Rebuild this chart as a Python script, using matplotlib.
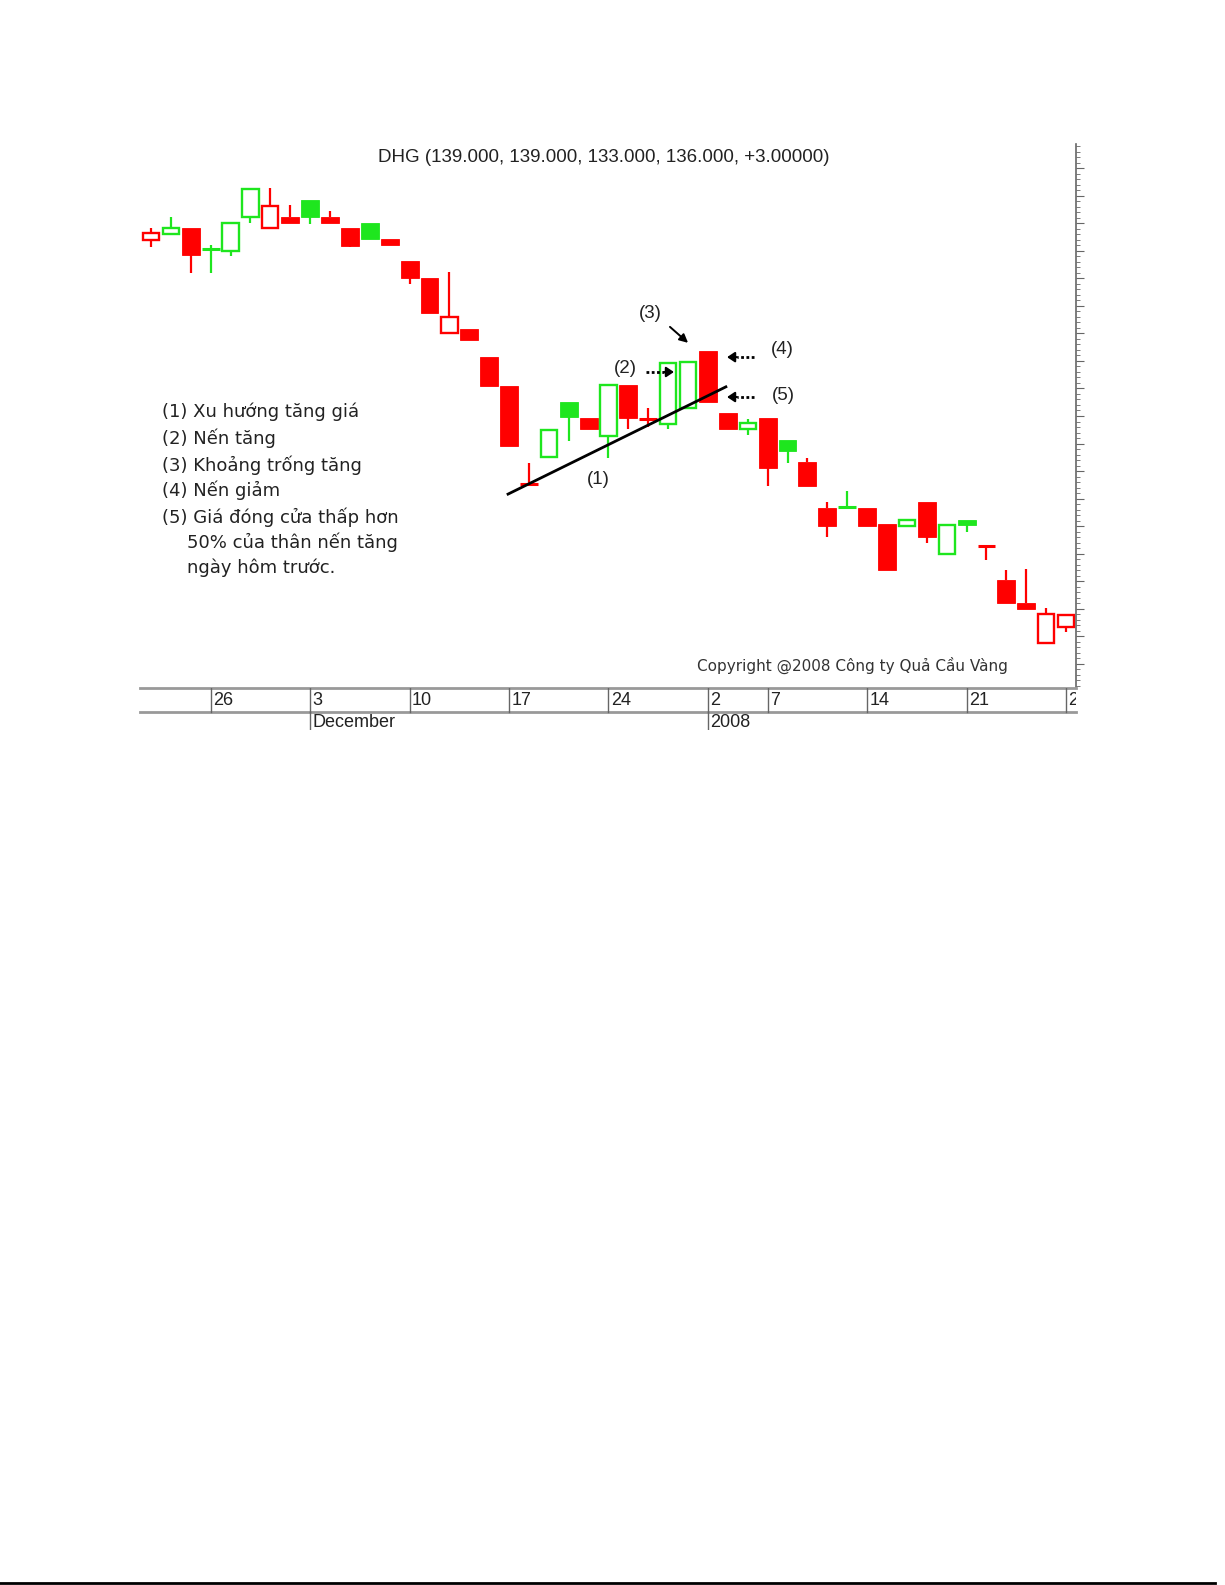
import matplotlib.pyplot as plt
from matplotlib.patches import Rectangle
from matplotlib.lines import Line2D
from matplotlib.ticker import MultipleLocator

# du lieu nen DHG (gia mo, cao, thap, dong)
gia_mo = [207.0, 208.1, 209.2, 205.4, 205.0, 211.2, 209.2, 211.2, 214.3, 211.1,
          209.2, 210.1, 207.2, 203.2, 200.1, 190.1, 190.8, 185.7, 180.5, 162.6,
          167.5, 177.5, 174.6, 171.4, 180.6, 174.5, 173.5, 176.5, 186.8, 175.5,
          172.6, 174.6, 170.6, 166.6, 158.3, 158.5, 158.3, 155.4, 155.0, 159.4,
          149.9, 156.1, 151.4, 145.2, 141.0, 133.7, 136.6]
gia_cao = [209.2, 211.2, 209.2, 206.1, 210.1, 216.3, 216.5, 213.4, 214.3, 212.3,
           209.2, 210.1, 207.2, 203.2, 200.1, 201.2, 190.8, 185.7, 180.5, 166.5,
           172.5, 177.5, 174.6, 180.6, 180.6, 176.5, 184.6, 184.9, 186.8, 175.5,
           174.5, 174.6, 170.6, 167.4, 159.4, 161.4, 158.3, 155.4, 156.1, 159.4,
           155.1, 156.1, 151.4, 147.0, 147.2, 140.1, 138.9]
gia_thap = [205.7, 208.1, 201.0, 201.0, 204.1, 210.1, 209.2, 210.1, 209.9, 210.1,
            205.7, 207.2, 206.1, 199.0, 193.7, 190.1, 188.8, 180.5, 169.5, 162.6,
            167.5, 170.5, 172.6, 167.4, 172.6, 173.0, 172.6, 176.5, 177.5, 172.6,
            171.5, 162.3, 166.5, 162.3, 153.0, 158.5, 155.0, 147.0, 155.0, 151.9,
            149.9, 153.9, 148.8, 141.0, 139.9, 133.7, 135.7]
gia_dong = [208.3, 209.2, 204.3, 205.4, 210.1, 216.3, 213.2, 210.1, 211.2, 210.1,
            205.9, 207.2, 206.1, 200.1, 193.7, 193.0, 188.8, 180.5, 169.5, 162.6,
            172.5, 174.8, 172.6, 180.6, 174.6, 174.5, 184.6, 184.9, 177.5, 172.6,
            173.7, 165.5, 168.6, 162.3, 155.0, 158.5, 155.0, 147.0, 156.1, 153.0,
            155.1, 155.2, 151.4, 141.0, 139.9, 139.0, 138.9]
dong_cua_truoc = 209.0

nhan_ngay = ['26', '3', '10', '17', '24', '2', '7', '14', '21', '28']
vi_tri_ngay = [3, 8, 13, 18, 23, 28, 31, 36, 41, 46]
nhan_thang = ['December', '2008']
vi_tri_thang = [8, 28]

chu_thich = ['(1) Xu hướng tăng giá', '(2) Nến tăng', '(3) Khoảng trống tăng',
             '(4) Nến giảm', '(5) Giá đóng cửa thấp hơn',
             '50% của thân nến tăng', 'ngày hôm trước.']

DO = '#ff0000'
XANH = '#1ee61e'
W, H = 1225, 1585

fig = plt.figure(figsize=(W / 100, H / 100), dpi=100)
ax = fig.add_axes([140 / W, 1 - 688 / H, 936 / W, 544 / H])
ax.set_xlim(-0.55, 46.5)
ax.set_ylim(125.55, 224.45)

rong = 0.9
for i in range(len(gia_mo)):
    o, h, l, c = gia_mo[i], gia_cao[i], gia_thap[i], gia_dong[i]
    truoc = dong_cua_truoc if i == 0 else gia_dong[i - 1]
    mau = XANH if c > truoc else DO
    tren, duoi = max(o, c), min(o, c)
    if h > tren:
        ax.plot([i, i], [tren, h], color=mau, lw=1.6, solid_capstyle='butt')
    if l < duoi:
        ax.plot([i, i], [l, duoi], color=mau, lw=1.6, solid_capstyle='butt')
    if tren - duoi < 0.3:
        ax.plot([i - rong / 2, i + rong / 2], [c, c], color=mau, lw=2.2,
                solid_capstyle='butt')
    elif c > o:
        ax.add_patch(Rectangle((i - rong / 2 + 0.04, duoi), rong - 0.08, tren - duoi,
                               facecolor='white', edgecolor=mau, lw=1.7))
    else:
        ax.add_patch(Rectangle((i - rong / 2, duoi), rong, tren - duoi,
                               facecolor=mau, edgecolor=mau, lw=0.6))

# truc gia ben phai
for s in ['left', 'top', 'bottom']:
    ax.spines[s].set_visible(False)
ax.spines['right'].set_color('#666666')
ax.spines['right'].set_linewidth(1.2)
ax.set_xticks([])
ax.yaxis.tick_right()
ax.yaxis.set_major_locator(MultipleLocator(5))
ax.yaxis.set_minor_locator(MultipleLocator(1))
ax.tick_params(axis='y', which='major', length=6, color='#666666', labelright=False)
ax.tick_params(axis='y', which='minor', length=3, color='#666666')

# chu thich tren bieu do
f_so = dict(family='Liberation Sans', fontsize=13.5, color='#222222', ha='center', va='center')
ax.plot([17.95, 28.9], [160.8, 180.3], color='black', lw=2)
ax.text(22.47, 163.4, '(1)', **f_so)
ax.text(23.83, 183.7, '(2)', **f_so)
ax.text(25.09, 193.7, '(3)', **f_so)
ax.text(31.72, 187.0, '(4)', **f_so)
ax.text(31.77, 178.8, '(5)', **f_so)

ax.annotate('', xy=(27.0, 188.3), xytext=(26.09, 191.2),
            arrowprops=dict(arrowstyle='-|>,head_length=0.5,head_width=0.25',
                            color='black', lw=1.4, shrinkA=0, shrinkB=0))


def mui_ten_cham(x0, x1, y):
    huong = 1 if x1 > x0 else -1
    ax.plot([x0, x1 - huong * 0.5], [y, y], color='black', lw=2.0,
            linestyle=(0, (1, 0.9)), solid_capstyle='butt')
    ax.annotate('', xy=(x1, y), xytext=(x1 - huong * 0.5, y),
                arrowprops=dict(arrowstyle='-|>,head_length=0.45,head_width=0.3',
                                color='black', lw=1.5, shrinkA=0, shrinkB=0))


mui_ten_cham(24.9, 26.29, 183.0)
mui_ten_cham(30.3, 28.96, 185.7)
mui_ten_cham(30.3, 28.96, 178.45)

# dai ngay ben duoi
ax2 = fig.add_axes([140 / W, 1 - 730 / H, 936 / W, 42 / H])
ax2.set_xlim(ax.get_xlim())
ax2.set_ylim(0, 42)
ax2.axis('off')
ax2.plot([-0.55, 46.5], [42, 42], color='#999999', lw=2, clip_on=False)
ax2.plot([-0.55, 46.5], [18, 18], color='#999999', lw=2, clip_on=False)
for x, t in zip(vi_tri_ngay, nhan_ngay):
    ax2.plot([x, x], [18, 42], color='#666666', lw=1)
    ax2.text(x + 0.12, 29.5, t, family='Liberation Sans', fontsize=13,
             color='#222222', ha='left', va='center', clip_on=True)
for x, t in zip(vi_tri_thang, nhan_thang):
    ax2.plot([x, x], [0, 18], color='#666666', lw=1)
    ax2.text(x + 0.12, 7.5, t, family='Liberation Sans', fontsize=13,
             color='#222222', ha='left', va='center')

fig.text(604 / W, 1 - 157 / H, 'DHG (139.000, 139.000, 133.000, 136.000, +3.00000)',
         family='Liberation Sans', fontsize=13.5, color='#222222', ha='center', va='center')

for k, dong in enumerate(chu_thich):
    x = 162 if k < 5 else 187
    y = [412, 438, 465, 490, 517, 542, 568][k]
    fig.text(x / W, 1 - y / H, dong, family='DejaVu Sans', fontsize=13,
             color='#222222', ha='left', va='center')

fig.text(697 / W, 1 - 665 / H, 'Copyright @2008 Công ty Quả Cầu Vàng',
         family='DejaVu Sans', fontsize=11, color='#333333', ha='left', va='center')

fig.add_artist(Line2D([0, 1215 / W], [1 - 1583 / H] * 2, color='black', lw=2))

fig.savefig('out.png', dpi=100, facecolor='white')
